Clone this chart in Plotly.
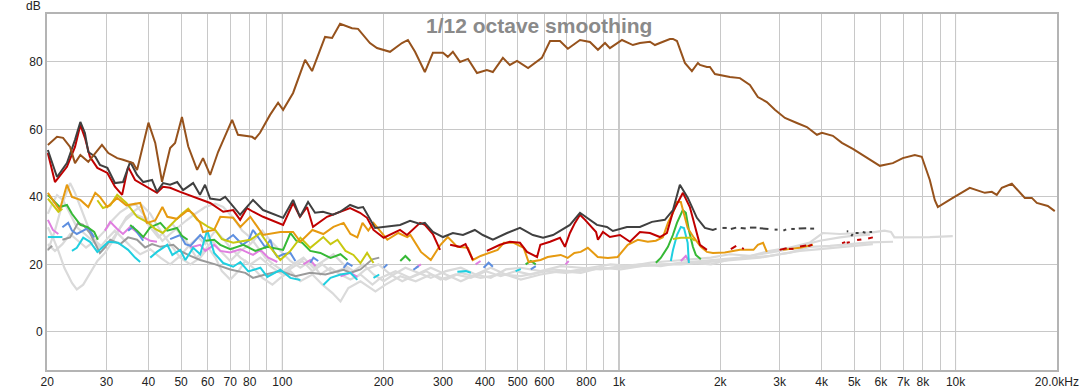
import plotly.graph_objects as go
import math

# ---------------- data (Hz, dB) ----------------
BROWN_F = [20.1,21.4,22.3,23.4,24.2,25.1,26.5,29.1,30.4,32.3,33.6,36,37,40,41.9,43.9,46.4,48,50.3,52.5,55.8,58.1,61,64.4,70.9,73.8,81.2,82.9,85.8,91.9,97.1,100.5,107.6,116.8,122.5,133.9,140.5,148.4,161,167.8,182,191,208.8,226.6,236,247.8,265,280,300,310,321,337,356,378.6,405,422,452,474,498,537,590,624,668,705,766,820,866,909,940,1021,1100,1154,1236,1279,1323,1417,1447,1487,1570,1647,1716,1740,1825,1863,1928,2136,2288,2449,2586,2750,2906,3113,3378,3617,3874,4009,4320,4596,4954,5450,5958,6512,6971,7568,7937,8386,8678,8860,9420,9816,11022,12218,12816,13260,13724,14698,16066,16852,17438,18796,19716]
BROWN_DB = [55.4,57.8,57.5,54.8,50,52.4,50.4,55.4,53,51.5,51,50,48,62,56,44.5,54.5,56,63.7,55,48,51.5,46.5,53.3,62.8,58.4,57.8,57.2,59,64.3,67.9,65.8,70.8,80.6,77.3,87.4,87.1,91.3,90,89.8,85.6,84.1,83,85.6,86.5,83,77,82.7,82.7,81.5,83,80,80.9,76.7,77.6,77,81.2,79.1,80.3,78.2,81.2,86.2,86.2,83.9,86.5,85.9,83.6,85.6,84.1,86.5,85,85.6,86,85,85.6,86.8,86.8,86.2,79.7,77.3,79.7,79.1,78.5,78.5,76.4,75.5,75.2,73.2,69.6,68.1,65.8,63.4,61.9,60.7,58.4,59,58.1,56,54.2,51.5,49.2,50,51.5,52.4,51.9,45,39,37,38.5,39.7,42.7,41.2,41.5,40.6,42.7,43.9,39.7,39.7,38.2,37.3,35.8]

DGRAY_F = [20.1,21.4,22.9,24.2,25.1,25.9,26.5,27.8,28.7,30.2,31.8,33.6,35.3,37,38.6,41,42.4,44.2,46.4,48.7,50.7,54.3,56.9,58.9,61,65.3,67.6,71.4,74.9,81.8,87.6,91.9,100.5,107.6,112.8,119.2,125,132,141.4,148.4,158.9,167.8,173.7,188.5,200,223.6,239.5,256.5,265,280,300,321,344,373,394,422,465,508,555,595,637,715,766,860,921,959,1056,1154,1253,1369,1447,1517,1602,1704,1800,1901,1950,None,
           2030,2090,None,2150,2230,None,2300,2380,None,2450,2560,None,2620,2780,None,2900,2960,None,3080,3140,None,3250,3330,None,3420,3600,None,3700,3800,None,4750,4800,None,4900,4950,None,5050,5150,None,5300,5400,None,5550,5650]
DGRAY_DB = [53.9,45.9,50,56.9,62.2,58.9,53.3,51.9,49.5,48.6,44.1,44.4,50.4,46.5,44.4,45,41.5,44.1,43.6,44.4,42,44.1,40.6,43.6,39.5,39.1,40,37,34.7,39.1,36.1,35.3,33.8,39.1,34.1,38.5,35.3,35.6,34.7,35.6,37.6,36.7,37,30.8,31.1,31.7,32.9,32,32.3,29.6,28.1,29.3,28.7,30.2,28.7,27.3,29.3,30.8,28.7,27.9,28.7,31.7,35.3,31.7,31.1,29.9,31.1,31.1,32.6,33.2,36.1,43.6,39.7,33.8,30.8,30.2,30.6,None,
            30.8,30.8,None,30.5,30.9,None,30.8,30.6,None,30.9,30.9,None,30.7,30.5,None,30.3,30.3,None,30.0,30.4,None,30.5,30.5,None,30.6,30.7,None,30.6,30.6,None,29.8,29.8,None,28.4,29.0,None,29.3,29.3,None,29.6,29.4,None,29.6,29.6]

DRED_F = [20.1,21.1,22.9,24.2,25.1,25.9,26.8,28.2,30.2,31.8,33.4,34.8,36.5,38.6,42.4,44.2,46.4,49.7,55.8,61,66.7,71.4,74.9,78.5,81.8,87.6,100.5,107.6,112.8,118.4,123.3,135.7,158.9,170.1,178.4,186.5,200,223.6,234.6,256.5,265,280,294,None,315,337,350,368,None,405,443,474,508,533,571,584,624,668,691,715,740,766,793,855,866,896,940,1007,1078,1154,1236,1323,1388,1447,1549,1624,1681,1740,1825,None,
          2150,2230,None,2320,2350,None,3000,3150,None,3200,3300,None,3450,3600,None,3650,3750,None,4600,4700,None,4750,4850,None,5100,5250,None,5500,5680]
DRED_DB = [53,44.4,48.9,54.8,61.3,57.5,51.9,48.6,47.1,43,40.6,48.9,45,43.6,41.2,43,42.7,41.5,39.7,38.2,35.6,36.1,33.2,36.7,35.6,34.1,31.7,38.2,34.1,37,31.1,34.1,36.7,35.3,33.8,30.2,27.9,30.2,28.7,32.3,31.7,29,24.3,None,25.8,25.2,26,21.3,None,24,25.8,26.7,26.4,23.7,22.2,25.8,26.7,27.9,25.2,29.3,32.3,34.7,33.2,29.6,27.3,29.6,28.1,28.7,26.7,29.6,29.3,28.1,29.3,35.6,41.2,37,31.1,25.8,24.3,None,
           24.5,25.5,None,24.8,24.6,None,24.3,24.8,None,24.6,24.6,None,25.3,25.6,None,25.4,25.8,None,26.3,26.6,None,26.4,26.6,None,27.2,27.4,None,27.7,28.0]

ORANGE_F = [20.1,20.8,21.8,22.9,23.7,25.1,26.5,27.8,28.7,30.2,32.3,34.4,37.8,39.6,41.9,44,45.5,48.6,52.5,54.3,57,58.1,62.7,65.4,71.4,75,80.3,84.3,87.6,98.6,107.6,113.1,122.8,132.3,141.8,152,159.3,167,173,180,186.5,205,221,235,240,258,276,295,310,331,356,368,388,436,455,487,521,539,585,614,671,704,737,770,808,865,927,991,1062,1138,1218,1287,1350,1398,1447,1487,1527,1600,1670,1751,1825,1901,2063,2288,2510,2586,2680,2750,None,3070,3449,3770]
ORANGE_DB = [41.2,39.1,36.1,43.6,40,39.1,37,41.2,40,37,39.7,37.5,38.2,32.3,33,37,34.1,33.5,36.1,35,32.3,29.6,30.2,34.1,33.8,31.1,34.1,31.1,28.7,29.6,29.6,26.7,30.2,29,31.1,32.3,29,28,32.3,30,32.3,27.3,29.3,28.1,28.7,23.7,21.3,25.8,28.1,25.2,24.9,21.3,22.5,24.3,26.4,26.4,24.9,20.7,21.3,22.2,22.8,21.9,23.4,23.7,24.9,22.2,21.9,22.2,25.8,27.3,26.7,27,28,32.3,35.3,38.5,38.5,30.8,27.9,25.2,23.7,23.4,23.5,24.3,24.3,25.8,26.4,23.7,None,24.3,24.9,25.8]

YELLOW_F = [20.1,20.8,21.6,22.2,None,28.2,29.3,30.8,32.3,34.4,37,40,41.9,44.1,48,50.3,52.5,55.8,60.2,63.2,66.1,71.4,80.3,86,92.1,98.6,105.6,113.1,117,121,132.3,139,145.8,154,162.6,170.6,178.5,186.5,None,1447,1527,1635,1680]
YELLOW_DB = [39.5,37.5,35.6,36.5,None,39,36.7,37.5,40.6,38.2,34.1,32.3,30.5,29.3,33,35,36.5,33.2,31.1,30.2,27.5,26.4,27.3,29.3,25,21.3,24,27.9,26.4,24.9,28.1,26,27.3,24,22.8,20.4,23.4,20.4,None,27.5,27.9,27.9,27]

GREEN_F = [20.1,20.8,21.8,22.9,23.7,25.1,26.3,27.6,28.3,None,35.3,37,38.6,40.5,43.4,45.5,48.6,50.3,52.3,None,59,62.7,65.4,70,76.6,83.1,90.2,95.3,100.5,105.6,110,114.6,121,129.7,139,148.8,156,None,224,232,240,None,528,547,566,None,1287,1331,1398,1446,1487,1547,1580,1613,1658,1692,1751]
GREEN_DB = [40.6,39.1,37,37.6,35,31.7,31.1,29.6,27.3,None,31.7,30,28.1,31,32.3,30,30.8,28.5,27.3,None,27,27.3,25.8,24.5,25.8,24,25.2,24.8,24.3,29.3,27,26.4,24,23.4,21.9,23,21.3,None,21,22.5,21,None,20,21,20,None,20.5,21.9,25.2,28.7,32.3,36.1,35.3,30.2,25.2,22.8,21.5]

CYAN_F = [20.1,21.1,22.2,None,23.7,24.5,25.6,26.8,28.2,29.1,30.4,32.5,34.8,36.5,37.8,None,40.5,42.4,45.5,47.1,49.7,51.5,54.3,57,59.8,62.7,66.7,71.4,75,79.2,86,90.2,98.6,105.6,113.1,None,132.3,139,148.8,159.3,167,None,186.5,194,None,331,351,363,None,493,511,None,1426,1447,1487,1527,1560,1600,1613]
CYAN_DB = [28.1,28.1,28.1,None,24,24.9,27.9,26.7,23.7,25,26.7,26.4,24.3,22,20.7,None,22,23.7,25.8,22.8,24.3,21.3,24.9,23,30.2,23.4,20.4,19.3,20.7,17.9,19,16.3,18.4,16,15.4,None,13.9,16,17,17.5,15.4,None,16,17,None,17.8,18,17.5,None,18,18.6,None,21,24.3,28.7,31.1,30.8,26.4,20.4]

BLUE_F = [22.2,23.1,23.7,24.5,25.6,26.5,27.6,None,34.8,36,37.3,38.6,None,46.4,49.7,51.5,53.3,57,59,None,67.7,71.4,76.1,79.2,81.8,86,89,92.1,94,96.6,100.5,105.6,109.3,None,121,123.6,127.8,None,152,156,161.5,None,200,205,None,245,254,None,396,410,422,None,547,566]
BLUE_DB = [31,32.3,30,29,30,30.8,28,None,30,31.1,29,27,None,27.5,28.7,26,25.5,28.7,27,None,27,28.7,25.8,27,30.2,27,25,27.3,24,22.2,23,23.4,21,None,20.5,22,21,None,19,20.4,19.5,None,19,20,None,18.4,19.5,None,19,20.5,19.3,None,18.5,19.5]

VIOLET_F = [20.1,20.8,21.6,None,29.7,30.8,32.3,33.6,35.3,37,38.6,40.5,42.4,None,53.3,57,59,62.7,65.4,70,75,78.6,81.8,86,90.8,96.6,None,115.5,121,125.4,None,148.8,159.3,167,None,249,258,None,375,388,None,694,709,None,1527,1580,1613]
VIOLET_DB = [33.2,30.2,29,None,30,32.6,30.5,29,31.1,29.5,28.1,27,26.7,None,25,25.8,24,25.8,24,23.5,24.5,23.7,22.8,24.3,22,20.7,None,20,21.3,19.5,None,16.5,17.5,16.3,None,19,20,None,20,21,None,20,21,None,21,22.5,21]

MGRAY_F = [20.1,20.7,None,22.2,23.4,24.7,25.6,26.8,27.8,28.7,29.7,30.8,33,34.8,37,39.1,41,43.4,47.4,49.7,53.3,57,63.2,70,77.6,81.8,89,98.6,109.3,121,134.2,152,159.3,170.6,185,194]
MGRAY_DB = [24.3,25.5,None,27.3,28,32.3,31.7,29.3,26,23.4,25,27.3,26,28,27.3,25,26,25.2,25.8,24,22.5,21.3,20,18.5,17.5,16,17,18,16.5,17.5,17,18.4,17.5,18.5,21.5,22]

LG1_F = [20.1,21.1,22.2,22.9,23.4,24.2,25.4,26.5,27.8,29.3,30.8,32.5,34.1,36,38.3,40.5,42.8,44.9,47.1,49.7,52.5,55.5,58.6,61.9,65.4,70,75,80.3,87.2,92.1,98.6,105.6,113.1,121,129.7,138.9,148.8,159.3,170.6,185.2,195.7,216.9,240,267,295,327,363,402,445,493,547,627,719,824,945,1084,1243,1426,1635,1876,2136,2449,2808,3220,3693,4030,4535,5201,5680,6150,6430,6580,7322,8386,9810]
LG1_DB = [24,30,38,42,44.1,41.2,36,31,27,25,26.5,30,33,35,34,31,28,30,32,29,26,22,24,27,24,21,24,26,30,27,24,21,19,21,17,19,17,15.5,17,14,16,18,16,18,15.5,17,16,18,16.5,18,17,18.5,18,19,20,19.5,20.5,21,21.5,22,23,22.5,24,25,26.5,29.3,29,29.3,29.5,30,29.6,28,28,28.1,28.4]

LG2_F = [20.1,20.8,21.6,22.5,23.7,24.5,25.6,26.8,28.2,29.7,31.4,33,34.4,36.5,38.3,40.5,42.8,44.9,47.1,49.7,53.3,57,60.2,63.2,66.1,70,74,77.6,81.8,87.2,93.4,98.6,105.6,113.1,122.8,131.5,140.9,148.8,157,170.6,189,202.5,224,249,276,306,339,388,445,511,606,694,824,978,1161,1378,1635,1876,2136,2449,2808,3220,3693,4235,4857,5570,6520]
LG2_DB = [31,28,24,19,14.5,12.6,14,17.5,21,23.4,27,31,34,36,37.5,35,31,28,25,22,20,22,25,22,18,15.5,18,21,19,16,14,16,18,15,17,14,11.5,9,13,15,12,14,16.5,15,17,15.5,17.5,16,17,16.5,18,17.5,18.5,19,19.5,20,20.5,20,21.5,22,22.5,23.5,25.2,25.5,26,26.5,26.7]

LG3_F = [20.1,20.7,21.4,22.3,23.4,24.5,25.9,27.2,28.7,30.4,31.8,33.3,35.3,37.8,40.5,43.4,46.4,49.7,53.3,56.2,59,63.2,66.1,70,75,80.3,86,92.1,99.9,106.8,114.6,122.8,131.5,140.9,154,164.9,176.6,193,209.6,227,249,276,306,339,375,416,461,511,585,671,770,883,1012,1161,1331,1527,1751,1994,2288,2622,3007,3449,3955,4535,5201,5680]
LG3_DB = [35,38,40.5,39,35,31,29,27,25,28,30,28,25.5,23,24.5,22,20,22.5,26,28,26,30,28,25,22,20,22,19.5,17,19,21,18,20,17.5,19,16,18.5,20,17,15,17,19,17,15,17,19,17,15.5,17,18,17.5,19,18.5,19.5,20,20,20.5,21,21.5,22,23,24,24.5,25,25.5,26]

LG4_F = [20.1,21.1,22.2,23.4,24.7,26.1,27.8,29.7,31.2,33,34.8,36.5,37.8,40,41.9,44,46.4,49,51.8,55.1,59,63.2,66.7,71.2,76,80.3,84.8,89,94,100.5,107.6,115.5,123.6,132.3,141.8,152,162.6,174,186.5,200,214,232,254,276,306,339,375,416,461,511,585,671,770,883,1012,1161,1331,1527,1751,1994,2288,2622,3007,3449,3955,4535,5000,5570]
LG4_DB = [26,24,26,29,27,25,27,30,33,35.5,37,38,36,33,30,27,29,31,33,35,37,38,37,34,30,28,25,22,20,18,20,22,19,21,23,20,18,20,17,15,17,19,17.5,16,18,19,17,16,18.5,19,18,19.5,19,18.5,19.5,20,19.5,20.5,21,21.5,22,23,24,25.5,27,28,28.5,28.8]

X_TICK_VALS = [20,30,40,50,60,70,80,90,100,200,300,400,500,600,700,800,900,1000,2000,3000,4000,5000,6000,7000,8000,9000,10000,20000]
X_TICK_TEXT = ["20","30","40","50","60","70","80","","100","200","300","400","500","600","","800","","1k","2k","3k","4k","5k","6k","7k","8k","","10k","20.0kHz"]
Y_TICK_VALS = [0,20,40,60,80]
Y_RANGE = [-11.3, 94.2]
X_RANGE_HZ = [20, 20000]
DECADES = [100, 1000, 10000]

TITLE = "1/12 octave smoothing"

# ---------------- figure ----------------
fig = go.Figure()

def add(f, db, color, width=2.0):
    fig.add_trace(go.Scatter(x=f, y=db, mode="lines",
                             line=dict(color=color, width=width),
                             connectgaps=False, hoverinfo="skip", showlegend=False))

LIGHT = "#dadada"
add(LG1_F, LG1_DB, LIGHT, 2.2)
add(LG2_F, LG2_DB, LIGHT, 2.2)
add(LG3_F, LG3_DB, LIGHT, 2.2)
add(LG4_F, LG4_DB, LIGHT, 2.2)
add(MGRAY_F, MGRAY_DB, "#9a9a9a")
add(VIOLET_F, VIOLET_DB, "#e07ee0")
add(BLUE_F, BLUE_DB, "#5e8fe0")
add(CYAN_F, CYAN_DB, "#1fcfe0")
add(GREEN_F, GREEN_DB, "#36b936")
add(YELLOW_F, YELLOW_DB, "#c8c810")
add(ORANGE_F, ORANGE_DB, "#e69a10")
add(DRED_F, DRED_DB, "#c00000")
add(DGRAY_F, DGRAY_DB, "#404040")
add(BROWN_F, BROWN_DB, "#96521c")

shapes = []
for d in DECADES:
    shapes.append(dict(type="line", xref="x", yref="paper", x0=d, x1=d, y0=0, y1=1,
                       line=dict(color="#8c8c8c", width=1), layer="below"))

eps = 0.0004
fig.update_layout(
    width=1079, height=391,
    margin=dict(l=47, r=22, t=14, b=21, autoexpand=False),
    paper_bgcolor="white", plot_bgcolor="white",
    font=dict(family="Liberation Sans, Arial, sans-serif", size=12, color="#222222"),
    shapes=shapes,
    xaxis=dict(type="log", range=[math.log10(X_RANGE_HZ[0]) - eps, math.log10(X_RANGE_HZ[1]) + eps],
               tickmode="array", tickvals=X_TICK_VALS, ticktext=X_TICK_TEXT,
               showgrid=True, gridcolor="#c8c8c8", gridwidth=1,
               showline=True, linecolor="#b4b4b4", linewidth=2, mirror=True,
               ticks="", zeroline=False, tickangle=0, automargin=False),
    yaxis=dict(range=Y_RANGE, tickmode="array", tickvals=Y_TICK_VALS,
               showgrid=True, gridcolor="#c8c8c8", gridwidth=1,
               showline=True, linecolor="#b4b4b4", linewidth=2, mirror=True,
               ticks="", zeroline=False, automargin=False),
    annotations=[
        dict(text=TITLE, xref="paper", yref="paper", x=0.487, y=0.969,
             xanchor="center", yanchor="middle", showarrow=False,
             font=dict(family="Liberation Sans, Arial, sans-serif", size=21, color="#8a8a8a", weight="bold")),
        dict(text="dB", xref="paper", yref="paper", x=-0.0129, y=1.0225,
             xanchor="center", yanchor="middle", showarrow=False,
             font=dict(family="Liberation Sans, Arial, sans-serif", size=12, color="#222222")),
    ],
)

fig.write_html("out.html", config={"displayModeBar": False, "staticPlot": True})

# remove the default page margin so the figure sits at the window's top-left corner
with open("out.html", "r", encoding="utf-8") as fh:
    html = fh.read()
html = html.replace("<head>", "<head><style>html,body{margin:0;padding:0;overflow:hidden;}</style>", 1)
with open("out.html", "w", encoding="utf-8") as fh:
    fh.write(html)
